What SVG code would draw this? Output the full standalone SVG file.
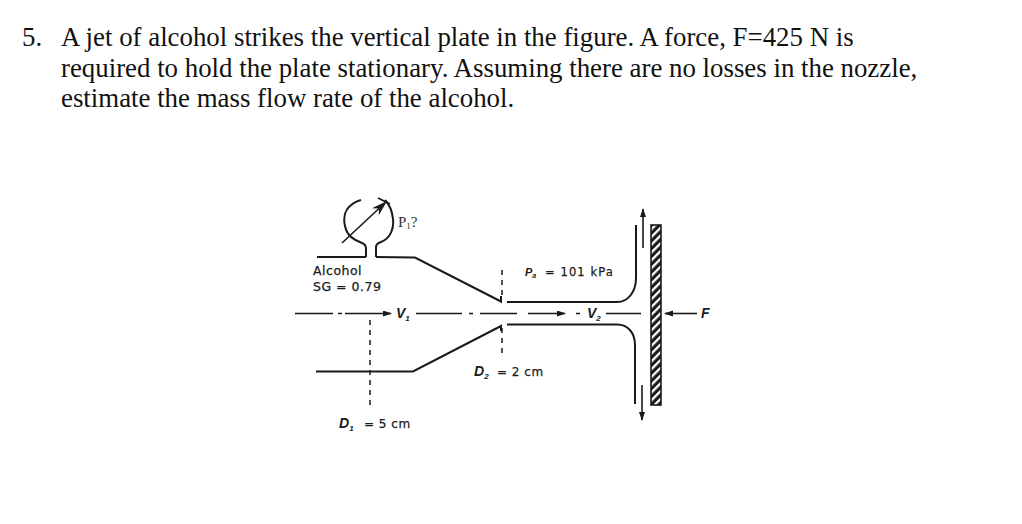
<svg xmlns="http://www.w3.org/2000/svg" width="1022" height="524" viewBox="0 0 1022 524">
<style>
.q{font-family:"Liberation Serif","Times New Roman",serif;font-size:26.85px;fill:#111}
.s{font-family:"DejaVu Sans",sans-serif;font-size:12.500px;letter-spacing:.5px;fill:#1c1c1c;stroke:#1c1c1c;stroke-width:.25}
.i{font-family:"Liberation Sans",sans-serif;font-style:italic;font-weight:bold;font-size:14px;fill:#1c1c1c}
.b{font-size:8px;font-weight:bold}
.l{fill:none;stroke:#1a1a1a;stroke-width:1.6}
.t{fill:none;stroke:#1a1a1a;stroke-width:2}
.d{fill:none;stroke:#1a1a1a;stroke-width:1.5;stroke-dasharray:5 5}
</style>
<defs>
<pattern id="h" width="5.500" height="5.500" patternUnits="userSpaceOnUse" patternTransform="rotate(45)">
<rect width="5.500" height="5.500" fill="#1a1a1a"/><rect width="2.300" height="5.500" fill="#fff"/>
</pattern>
<marker id="a" markerWidth="9" markerHeight="7" refX="8" refY="3" orient="auto" markerUnits="userSpaceOnUse"><path d="M0 0L9 3L0 6Z" fill="#1a1a1a"/></marker>
<marker id="g" markerWidth="17" markerHeight="11" refX="16" refY="5" orient="auto" markerUnits="userSpaceOnUse"><path d="M0 0L16 5L0 10L5 5Z" fill="#1a1a1a"/></marker>
</defs>
<rect width="1022" height="524" fill="#fff"/>
<g id="question">
<text class="q" x="22" y="46">5.</text>
<text class="q" x="61" y="46">A jet of alcohol strikes the vertical plate in the figure. A force, F=425 N is</text>
<text class="q" x="61" y="77">required to hold the plate stationary. Assuming there are no losses in the nozzle,</text>
<text class="q" x="61" y="107">estimate the mass flow rate of the alcohol.</text>
</g>
<g id="connectors">
<path class="l" d="M295 313.500H333M338 313.500H342"/>
<path class="l" d="M345 313.500H391" marker-end="url(#a)"/>
<path class="l" d="M416 313.500H462M469 313.500H473M480 313.500H517"/>
<path class="l" d="M528 313.500H565" marker-end="url(#a)"/>
<path class="l" d="M576 313.500H580M606 313.500H641"/>
<path class="l" d="M697 313.500H665" marker-end="url(#a)"/>
<path class="l" d="M643 248V209" marker-end="url(#a)"/>
<path class="l" d="M642 385V420" marker-end="url(#a)"/>
<path class="d" d="M370 320V410"/>
<path class="d" d="M502 270V300"/>
<path class="d" d="M502 328V358"/>
</g>
<g id="gauge">
<path class="t" d="M361 200C348 204 342 213 345 226C347 236 354 240 362 243C365 244 366 246 366 249V257"/>
<path class="t" d="M376 257V247C376 244 378 243 381 242C391 238 394 228 393 219C392 210 389 204 385 200"/>
<path class="l" d="M342 243L387 201" marker-end="url(#g)"/>
<path class="l" d="M378 198L390 204"/>
</g>
<g id="nozzle">
<path class="t" d="M317 257H366M376 257L415 257.500L501 301.500V296"/>
<path class="t" d="M316 371.500H413L501 326V331"/>
</g>
<g id="jet">
<path class="t" d="M507 302H617C628 302 636 292 636 278V225"/>
<path class="t" d="M507 324.500H617C628 324.500 635 333 635 345V404"/>
</g>
<g id="plate">
<rect x="651" y="225" width="10" height="180" fill="url(#h)" stroke="#1a1a1a" stroke-width="1.600"/>
</g>
<g id="labels">
<text x="398" y="227" font-family="Liberation Serif,serif" font-size="15" fill="#333">P<tspan font-size="9" dy="2">1</tspan><tspan dy="-2">?</tspan></text>
<text class="s" x="313" y="275">Alcohol</text>
<text class="s" x="313" y="291">SG = 0.79</text>
<text class="i" x="396" y="318">V<tspan class="b" dy="3">1</tspan></text>
<text class="i" x="587" y="318">V<tspan class="b" dy="3">2</tspan></text>
<text class="i" x="701" y="318">F</text>
<text class="i" x="525" y="276" style="font-size:11px">P<tspan class="b" style="font-size:7px" dy="2">a</tspan></text>
<text class="s" x="545" y="276" style="font-size:11.500px;letter-spacing:1.100px">= 101 kPa</text>
<text class="i" x="474" y="376">D<tspan class="b" dy="3">2</tspan></text>
<text class="s" x="497" y="376" style="font-size:12px">= 2 cm</text>
<text class="i" x="339" y="428">D<tspan class="b" dy="3">1</tspan></text>
<text class="s" x="364" y="428" style="font-size:12px">= 5 cm</text>
</g>
</svg>
